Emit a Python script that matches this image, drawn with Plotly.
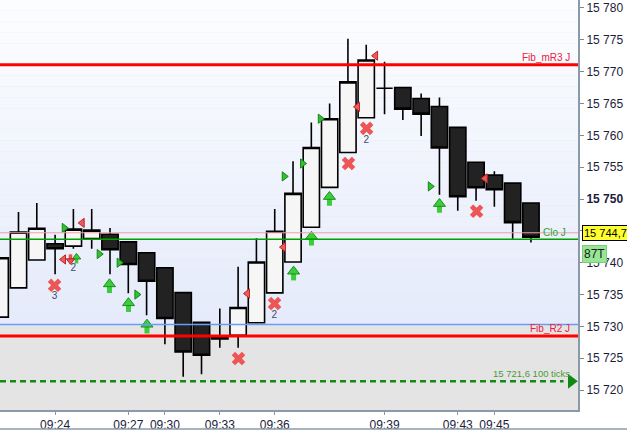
import plotly.graph_objects as go

# bougies (index de barre -> OHLC)
opens = [15731.45, 15736.05, 15740.42, 15742.97, 15742.61, 15743.80, 15744.48, 15743.28, 15741.56, 15739.22,
         15735.31, 15730.63, 15728.05, 15728.59, 15730.58, 15735.27, 15740.11, 15745.58, 15751.83, 15757.30,
         15762.77, 15767.39, 15767.50, 15765.78, 15764.53, 15761.25, 15755.78, 15753.75, 15752.50, 15749.38]
highs = [15740.78, 15747.97, 15749.38, 15744.38, 15748.44, 15748.44, 15745.47, 15743.28, 15741.56, 15739.22,
         15735.31, 15730.63, 15732.81, 15739.38, 15743.86, 15748.44, 15755.94, 15762.03, 15765.00, 15775.16,
         15774.22, 15771.56, 15767.50, 15766.56, 15765.94, 15761.25, 15755.78, 15754.38, 15752.50, 15749.38]
lows = [15731.45, 15736.05, 15740.42, 15738.17, 15742.19, 15742.19, 15738.17, 15735.20, 15731.77, 15727.19,
        15722.08, 15722.50, 15726.64, 15726.64, 15730.58, 15735.27, 15740.11, 15745.58, 15751.83, 15757.30,
        15762.77, 15763.33, 15762.39, 15759.89, 15750.67, 15748.17, 15749.73, 15748.80, 15743.75, 15743.17]
closes = [15740.78, 15744.80, 15745.42, 15742.19, 15745.27, 15745.11, 15742.03, 15739.73, 15737.08, 15731.25,
          15725.98, 15725.47, 15728.39, 15732.97, 15740.11, 15744.95, 15750.89, 15758.08, 15762.61, 15768.39,
          15771.83, 15767.39, 15764.11, 15763.33, 15758.02, 15750.36, 15751.77, 15751.45, 15746.30, 15744.00]

# axe des temps (barres en ticks, pas en minutes)
time_tick_idx = [3, 7, 9, 12, 15, 21, 25, 27]
time_tick_txt = ["09:24", "09:27", "09:30", "09:33", "09:36", "09:39", "09:43", "09:45"]

# 15 745 est cache par l'etiquette du dernier cours
price_ticks = [15720, 15725, 15730, 15735, 15740, 15745, 15750, 15755, 15760, 15765, 15770, 15775, 15780]
price_tick_txt = ["15 720", "15 725", "15 730", "15 735", "15 740", "", "<b>15 750</b>",
                  "15 755", "15 760", "15 765", "15 770", "15 775", "15 780"]

# niveaux
fib_mr3 = 15771.1
clo_j = 15743.7
last_price = 15744.7
zone_limit = 15730.3
fib_r2 = 15728.5
target = 15721.4

# signaux
tri_r_x = [3.50, 5.41, 6.50, 7.47, 15.52, 16.52, 17.49, 23.50]
tri_r_y = [15745.47, 15741.36, 15740.0, 15735.0, 15753.55, 15755.58, 15762.61, 15751.98]
tri_l_x = [4.48, 3.46, 13.51, 15.48, 19.52, 20.51, 26.50]
tri_l_y = [15746.25, 15740.52, 15735.16, 15742.45, 15764.48, 15772.5, 15753.23]
up_x = [5.97, 7.01, 8.02, 16.03, 17.01, 17.99, 24.0]
up_y = [15736.45, 15733.48, 15730.11, 15738.44, 15743.91, 15750.16, 15749.06]
small_up_x = [4.17]
small_up_y = [15740.73]
small_dn_x = [3.84]
small_dn_y = [15740.47]
cross_x = [2.97, 13.02, 14.99, 19.03, 20.02, 26.03]
cross_y = [15736.45, 15724.95, 15733.59, 15755.58, 15761.09, 15748.08]
count_x = [2.97, 3.99, 14.97, 20.0]
count_y = [15734.69, 15739.05, 15731.72, 15759.22]
count_txt = ["3", "2", "2", "2"]

y_lo, y_hi = 15716.875, 15781.25
x_lo, x_hi = -0.01, 31.57
px_per_pt = 412 / (y_hi - y_lo)

fig = go.Figure()

# fond degrade au-dessus de la zone grise
shapes = []
n_bands = 30
c_bot = (229, 235, 251)
c_top = (252, 253, 255)
for k in range(n_bands):
    f = k / (n_bands - 1)
    col = tuple(round(c_bot[j] + (c_top[j] - c_bot[j]) * f) for j in range(3))
    y0 = zone_limit + (y_hi - zone_limit) * k / n_bands
    y1 = zone_limit + (y_hi - zone_limit) * (k + 1) / n_bands
    shapes.append(dict(type="rect", xref="paper", yref="y", x0=0, x1=1, y0=y0, y1=y1,
                       fillcolor="rgb(%d,%d,%d)" % col, line_width=0, layer="below"))

def hline(y, color, width, dash="solid", x1=1):
    shapes.append(dict(type="line", xref="paper", yref="y", x0=0, x1=x1, y0=y, y1=y,
                       line=dict(color=color, width=width, dash=dash)))

hline(last_price, "#f0a0a8", 1)
hline(clo_j, "#00a000", 1.5)
hline(zone_limit, "#6a9cf5", 1.5)
hline(fib_mr3, "#ff0000", 3)
hline(fib_r2, "#ff0000", 3)
hline(target, "#138a13", 2.5, dash="6px,4px", x1=0.975)
# bord bas de la fenetre
shapes.append(dict(type="line", xref="paper", yref="paper", x0=0, x1=1.1, y0=-0.0465, y1=-0.0465,
                   line=dict(color="#8a9aa8", width=1.5)))

fig.add_trace(go.Candlestick(
    x=list(range(len(opens))), open=opens, high=highs, low=lows, close=closes,
    increasing=dict(line=dict(color="black", width=1.6), fillcolor="#f6f6f6"),
    decreasing=dict(line=dict(color="black", width=1.6), fillcolor="#222222"),
    whiskerwidth=0, hoverinfo="skip", showlegend=False,
))

off = 1 / px_per_pt  # 1 pixel en points

def arrow(xs, ys, up, scale, fill, edge):
    head = 10.5 * scale
    stem = 5.5 * scale
    sgn = 1 if up else -1
    fig.add_trace(go.Scatter(
        x=xs, y=[v - sgn * 3.9 * scale * off for v in ys], mode="markers",
        marker=dict(symbol="line-ns", size=stem, line=dict(color=fill, width=5 * scale)),
        hoverinfo="skip", showlegend=False))
    fig.add_trace(go.Scatter(
        x=xs, y=[v + sgn * 1.3 * scale * off for v in ys], mode="markers",
        marker=dict(symbol="triangle-up" if up else "triangle-down", size=head, color=fill,
                    line=dict(color=edge, width=1)),
        hoverinfo="skip", showlegend=False))

arrow(up_x, up_y, True, 1.0, "#3ccc3c", "#1a901a")
arrow(small_up_x, small_up_y, True, 0.7, "#3ccc3c", "#1a901a")
arrow(small_dn_x, small_dn_y, False, 0.7, "#ec5050", "#c02020")

fig.add_trace(go.Scatter(
    x=tri_r_x, y=tri_r_y, mode="markers",
    marker=dict(symbol="triangle-right", size=8, color="#34c034", line=dict(color="#118811", width=1)),
    hoverinfo="skip", showlegend=False))
fig.add_trace(go.Scatter(
    x=tri_l_x, y=tri_l_y, mode="markers",
    marker=dict(symbol="triangle-left", size=8, color="#ec5a5a", line=dict(color="#c02424", width=1)),
    hoverinfo="skip", showlegend=False))
fig.add_trace(go.Scatter(
    x=cross_x, y=cross_y, mode="markers",
    marker=dict(symbol="x", size=12, color="#ee5555", line=dict(width=0)),
    hoverinfo="skip", showlegend=False))
fig.add_trace(go.Scatter(
    x=count_x, y=count_y, mode="text", text=count_txt,
    textfont=dict(family="Liberation Sans, Arial", size=10, color="#3c4a6a"),
    hoverinfo="skip", showlegend=False))
# fleche de l'objectif
fig.add_trace(go.Scatter(
    x=[31.2], y=[target], mode="markers",
    marker=dict(symbol="triangle-right", size=13, color="#118811", line=dict(width=0)),
    hoverinfo="skip", showlegend=False))

lbl_font = dict(family="Liberation Sans, Arial", size=10)
annotations = [
    dict(text="Fib_mR3 J", x=0.99, y=fib_mr3, xanchor="right", yanchor="bottom",
         font=dict(color="#e8203c", **lbl_font)),
    dict(text="Clo J", x=0.982, y=clo_j, xanchor="right", yanchor="bottom", yshift=-1,
         font=dict(color="#2aa52a", **lbl_font)),
    dict(text="Fib_R2 J", x=0.99, y=fib_r2, xanchor="right", yanchor="bottom",
         font=dict(color="#e8203c", **lbl_font)),
    dict(text="15 721,6 100 ticks", x=0.99, y=target, xanchor="right", yanchor="bottom",
         font=dict(color="#4a9a3a", family="Liberation Sans, Arial", size=9.5)),
    dict(text="15 744,7", x=1.0, y=last_price, xanchor="left", yanchor="middle", xshift=4,
         bgcolor="#ffff30", bordercolor="black", borderwidth=1, borderpad=1,
         font=dict(color="black", family="Liberation Sans, Arial", size=11)),
    dict(text="87T", x=1.0, y=last_price, xanchor="left", yanchor="middle", xshift=4, yshift=-21,
         bgcolor="#96e696", bordercolor="#7ccc7c", borderwidth=1, borderpad=1,
         font=dict(color="#1a1a1a", family="Liberation Sans, Arial", size=12)),
]
for a in annotations:
    a.setdefault("xref", "paper")
    a.setdefault("yref", "y")
    a["showarrow"] = False

axis_font = dict(family="Liberation Sans, Arial", size=12, color="#1c1c3c")
fig.update_layout(
    width=627, height=432,
    margin=dict(l=0, r=49, t=0, b=20),
    paper_bgcolor="white",
    plot_bgcolor="#e4e4e4",
    boxgap=0.11, boxgroupgap=0,
    shapes=shapes,
    annotations=annotations,
    showlegend=False,
    xaxis=dict(range=[x_lo, x_hi], tickvals=time_tick_idx, ticktext=time_tick_txt,
               rangeslider=dict(visible=False), showgrid=False, zeroline=False,
               ticks="outside", ticklen=3, tickcolor="#8a9aa8", showline=True,
               linecolor="#8a9aa8", linewidth=2, tickfont=axis_font),
    yaxis=dict(range=[y_lo, y_hi], side="right", tickvals=price_ticks, ticktext=price_tick_txt,
               showgrid=False, zeroline=False, ticks="outside", ticklen=4, tickcolor="#7a8a98",
               showline=True, linecolor="#8a9aa8", linewidth=2, tickfont=axis_font),
)

# la page a une marge de 8px par defaut : on la retire
fig.write_html("out.html", config={"displayModeBar": False},
               post_script="document.body.style.margin='0';")
